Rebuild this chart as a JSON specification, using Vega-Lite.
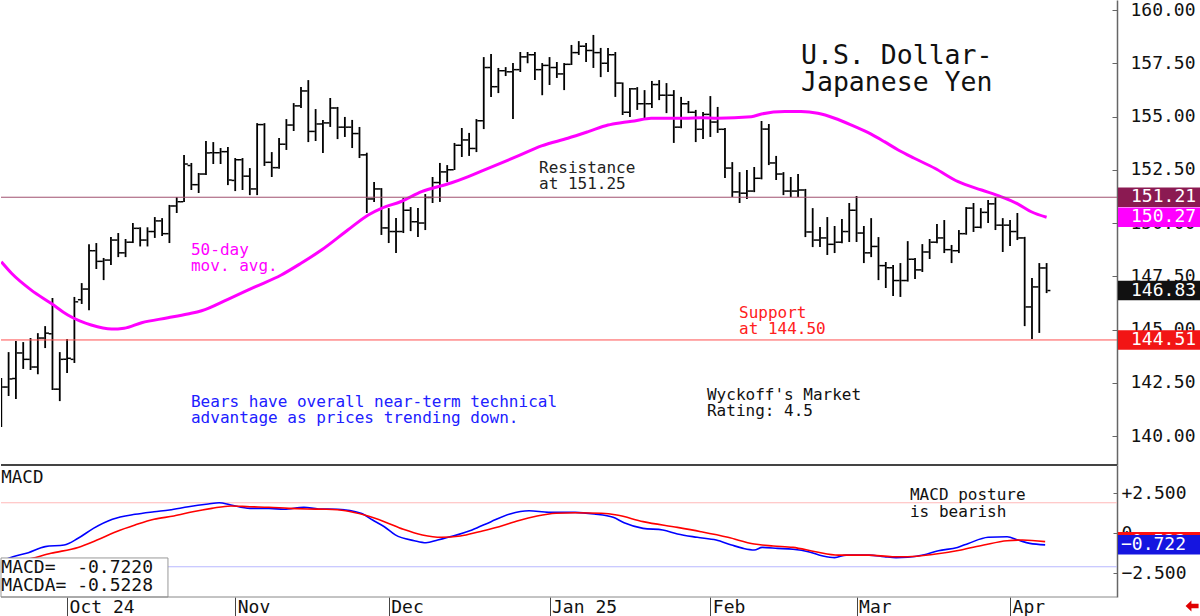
{
  "$schema": "https://vega.github.io/schema/vega-lite/v6.json",
  "padding": 0,
  "background": "white",
  "spacing": 0,
  "bounds": "flush",
  "resolve": {"scale": {"x": "independent", "y": "independent", "color": "independent"}},
  "config": {"view": {"stroke": null}, "font": "DejaVu Sans Mono"},
  "datasets": {
    "bars": [
      {"d":"2024-09-18","i":0,"o":141.2,"h":142.72,"l":140.42,"c":142.3},
      {"d":"2024-09-19","i":1,"o":142.3,"h":143.94,"l":141.88,"c":142.68},
      {"d":"2024-09-20","i":2,"o":142.7,"h":144.46,"l":141.74,"c":143.9},
      {"d":"2024-09-23","i":3,"o":143.9,"h":144.41,"l":143.15,"c":143.6},
      {"d":"2024-09-24","i":4,"o":143.6,"h":144.6,"l":143.1,"c":143.24},
      {"d":"2024-09-25","i":5,"o":143.24,"h":144.83,"l":142.9,"c":144.6},
      {"d":"2024-09-26","i":6,"o":144.6,"h":145.16,"l":144.13,"c":144.83},
      {"d":"2024-09-27","i":7,"o":144.8,"h":146.48,"l":142.16,"c":142.2},
      {"d":"2024-09-30","i":8,"o":142.2,"h":143.94,"l":141.64,"c":143.6},
      {"d":"2024-10-01","i":9,"o":143.6,"h":144.55,"l":142.96,"c":143.65},
      {"d":"2024-10-02","i":10,"o":143.6,"h":146.53,"l":143.43,"c":146.3},
      {"d":"2024-10-03","i":11,"o":146.4,"h":147.18,"l":146.2,"c":146.9},
      {"d":"2024-10-04","i":12,"o":146.9,"h":149.0,"l":145.9,"c":148.7},
      {"d":"2024-10-07","i":13,"o":148.7,"h":149.06,"l":147.84,"c":148.2},
      {"d":"2024-10-08","i":14,"o":148.2,"h":148.36,"l":147.32,"c":148.26},
      {"d":"2024-10-09","i":15,"o":148.26,"h":149.34,"l":148.03,"c":149.2},
      {"d":"2024-10-10","i":16,"o":149.2,"h":149.53,"l":148.4,"c":148.6},
      {"d":"2024-10-11","i":17,"o":148.6,"h":149.25,"l":148.4,"c":149.1},
      {"d":"2024-10-14","i":18,"o":149.1,"h":150.0,"l":149.06,"c":149.75},
      {"d":"2024-10-15","i":19,"o":149.75,"h":149.8,"l":148.9,"c":149.2},
      {"d":"2024-10-16","i":20,"o":149.2,"h":149.8,"l":148.9,"c":149.6},
      {"d":"2024-10-17","i":21,"o":149.6,"h":150.28,"l":149.3,"c":150.1},
      {"d":"2024-10-18","i":22,"o":150.1,"h":150.23,"l":149.39,"c":149.5},
      {"d":"2024-10-21","i":23,"o":149.5,"h":150.85,"l":149.06,"c":150.8},
      {"d":"2024-10-22","i":24,"o":150.8,"h":151.22,"l":150.47,"c":151.0},
      {"d":"2024-10-23","i":25,"o":151.0,"h":153.19,"l":150.99,"c":152.77},
      {"d":"2024-10-24","i":26,"o":152.7,"h":152.82,"l":151.55,"c":151.8},
      {"d":"2024-10-25","i":27,"o":151.8,"h":152.35,"l":151.41,"c":152.3},
      {"d":"2024-10-28","i":28,"o":152.3,"h":153.85,"l":152.25,"c":153.29},
      {"d":"2024-10-29","i":29,"o":153.3,"h":153.8,"l":152.77,"c":153.3},
      {"d":"2024-10-30","i":30,"o":153.3,"h":153.52,"l":152.77,"c":153.35},
      {"d":"2024-10-31","i":31,"o":153.35,"h":153.57,"l":151.78,"c":152.02},
      {"d":"2024-11-01","i":32,"o":152.0,"h":153.05,"l":151.5,"c":152.97},
      {"d":"2024-11-04","i":33,"o":152.97,"h":153.05,"l":151.55,"c":152.2},
      {"d":"2024-11-05","i":34,"o":152.2,"h":152.58,"l":151.31,"c":151.6},
      {"d":"2024-11-06","i":35,"o":151.6,"h":154.69,"l":151.31,"c":154.62},
      {"d":"2024-11-07","i":36,"o":154.62,"h":154.69,"l":152.68,"c":152.85},
      {"d":"2024-11-08","i":37,"o":152.85,"h":153.33,"l":152.16,"c":152.6},
      {"d":"2024-11-11","i":38,"o":152.6,"h":153.99,"l":152.55,"c":153.7},
      {"d":"2024-11-12","i":39,"o":153.7,"h":154.88,"l":153.43,"c":154.6},
      {"d":"2024-11-13","i":40,"o":154.6,"h":155.63,"l":154.32,"c":155.5},
      {"d":"2024-11-14","i":41,"o":155.5,"h":156.38,"l":155.4,"c":156.2},
      {"d":"2024-11-15","i":42,"o":156.2,"h":156.71,"l":153.8,"c":154.3},
      {"d":"2024-11-18","i":43,"o":154.3,"h":155.35,"l":153.85,"c":154.65},
      {"d":"2024-11-19","i":44,"o":154.65,"h":154.84,"l":153.29,"c":154.7},
      {"d":"2024-11-20","i":45,"o":154.7,"h":155.87,"l":154.51,"c":155.4},
      {"d":"2024-11-21","i":46,"o":155.4,"h":155.45,"l":153.94,"c":154.5},
      {"d":"2024-11-22","i":47,"o":154.5,"h":154.98,"l":154.04,"c":154.5},
      {"d":"2024-11-25","i":48,"o":154.5,"h":154.84,"l":153.52,"c":154.2},
      {"d":"2024-11-26","i":49,"o":154.2,"h":154.51,"l":153.05,"c":153.2},
      {"d":"2024-11-27","i":50,"o":153.2,"h":153.3,"l":150.47,"c":151.13},
      {"d":"2024-11-28","i":51,"o":151.13,"h":151.92,"l":150.99,"c":151.6},
      {"d":"2024-11-29","i":52,"o":151.6,"h":151.64,"l":149.44,"c":149.77},
      {"d":"2024-12-02","i":53,"o":149.77,"h":150.7,"l":149.06,"c":149.6},
      {"d":"2024-12-03","i":54,"o":149.6,"h":150.23,"l":148.59,"c":149.6},
      {"d":"2024-12-04","i":55,"o":149.6,"h":151.17,"l":149.53,"c":150.6},
      {"d":"2024-12-05","i":56,"o":150.6,"h":150.75,"l":149.62,"c":150.06},
      {"d":"2024-12-06","i":57,"o":150.06,"h":150.7,"l":149.34,"c":150.0},
      {"d":"2024-12-09","i":58,"o":150.0,"h":151.36,"l":149.67,"c":151.2},
      {"d":"2024-12-10","i":59,"o":151.2,"h":152.16,"l":150.94,"c":151.9},
      {"d":"2024-12-11","i":60,"o":151.9,"h":152.82,"l":150.99,"c":152.4},
      {"d":"2024-12-12","i":61,"o":152.4,"h":152.72,"l":151.92,"c":152.5},
      {"d":"2024-12-13","i":62,"o":152.5,"h":153.76,"l":152.49,"c":153.65},
      {"d":"2024-12-16","i":63,"o":153.65,"h":154.46,"l":153.1,"c":153.9},
      {"d":"2024-12-17","i":64,"o":153.9,"h":154.23,"l":153.15,"c":153.5},
      {"d":"2024-12-18","i":65,"o":153.5,"h":154.88,"l":153.33,"c":154.8},
      {"d":"2024-12-19","i":66,"o":154.8,"h":157.79,"l":154.41,"c":157.3},
      {"d":"2024-12-20","i":67,"o":157.3,"h":157.93,"l":155.92,"c":156.4},
      {"d":"2024-12-23","i":68,"o":156.4,"h":157.28,"l":156.1,"c":157.15},
      {"d":"2024-12-24","i":69,"o":157.15,"h":157.32,"l":156.9,"c":157.1},
      {"d":"2024-12-25","i":70,"o":157.1,"h":157.51,"l":154.88,"c":157.2},
      {"d":"2024-12-26","i":71,"o":157.2,"h":158.03,"l":157.09,"c":157.8},
      {"d":"2024-12-27","i":72,"o":157.8,"h":158.03,"l":157.5,"c":157.9},
      {"d":"2024-12-30","i":73,"o":157.9,"h":158.03,"l":156.71,"c":157.2},
      {"d":"2024-12-31","i":74,"o":157.2,"h":157.51,"l":156.0,"c":157.4},
      {"d":"2025-01-02","i":75,"o":157.4,"h":157.79,"l":156.48,"c":157.3},
      {"d":"2025-01-03","i":76,"o":157.3,"h":157.56,"l":156.81,"c":157.0},
      {"d":"2025-01-06","i":77,"o":157.0,"h":157.51,"l":156.24,"c":157.45},
      {"d":"2025-01-07","i":78,"o":157.45,"h":158.36,"l":157.42,"c":158.0},
      {"d":"2025-01-08","i":79,"o":158.0,"h":158.54,"l":157.89,"c":158.3},
      {"d":"2025-01-09","i":80,"o":158.3,"h":158.45,"l":157.56,"c":158.1},
      {"d":"2025-01-10","i":81,"o":158.1,"h":158.83,"l":157.28,"c":158.0},
      {"d":"2025-01-13","i":82,"o":158.0,"h":158.22,"l":156.85,"c":157.5},
      {"d":"2025-01-14","i":83,"o":157.5,"h":158.22,"l":157.09,"c":157.9},
      {"d":"2025-01-15","i":84,"o":157.9,"h":158.03,"l":155.92,"c":156.57},
      {"d":"2025-01-16","i":85,"o":156.57,"h":156.6,"l":155.07,"c":155.2},
      {"d":"2025-01-17","i":86,"o":155.2,"h":156.34,"l":154.98,"c":156.3},
      {"d":"2025-01-20","i":87,"o":156.3,"h":156.38,"l":155.31,"c":155.6},
      {"d":"2025-01-21","i":88,"o":155.6,"h":156.24,"l":154.84,"c":155.6},
      {"d":"2025-01-22","i":89,"o":155.6,"h":156.67,"l":155.4,"c":156.5},
      {"d":"2025-01-23","i":90,"o":156.5,"h":156.71,"l":155.77,"c":156.0},
      {"d":"2025-01-24","i":91,"o":156.0,"h":156.57,"l":155.16,"c":156.0},
      {"d":"2025-01-27","i":92,"o":156.0,"h":156.24,"l":153.76,"c":154.5},
      {"d":"2025-01-28","i":93,"o":154.5,"h":155.92,"l":154.45,"c":155.6},
      {"d":"2025-01-29","i":94,"o":155.6,"h":155.73,"l":155.16,"c":155.2},
      {"d":"2025-01-30","i":95,"o":155.2,"h":155.31,"l":153.8,"c":154.4},
      {"d":"2025-01-31","i":96,"o":154.4,"h":155.21,"l":153.94,"c":155.1},
      {"d":"2025-02-03","i":97,"o":155.1,"h":155.96,"l":154.04,"c":154.74},
      {"d":"2025-02-04","i":98,"o":154.74,"h":155.45,"l":154.23,"c":154.4},
      {"d":"2025-02-05","i":99,"o":154.4,"h":154.46,"l":152.11,"c":152.58},
      {"d":"2025-02-06","i":100,"o":152.58,"h":152.86,"l":151.22,"c":151.46},
      {"d":"2025-02-07","i":101,"o":151.46,"h":152.39,"l":150.94,"c":151.4},
      {"d":"2025-02-10","i":102,"o":151.4,"h":152.49,"l":151.13,"c":151.5},
      {"d":"2025-02-11","i":103,"o":151.5,"h":152.63,"l":151.45,"c":152.1},
      {"d":"2025-02-12","i":104,"o":152.1,"h":154.79,"l":152.05,"c":154.41},
      {"d":"2025-02-13","i":105,"o":154.41,"h":154.65,"l":152.72,"c":152.82},
      {"d":"2025-02-14","i":106,"o":152.82,"h":153.15,"l":152.02,"c":152.3},
      {"d":"2025-02-17","i":107,"o":152.3,"h":152.39,"l":151.31,"c":151.5},
      {"d":"2025-02-18","i":108,"o":151.5,"h":152.16,"l":151.22,"c":151.5},
      {"d":"2025-02-19","i":109,"o":151.5,"h":152.3,"l":151.22,"c":151.55},
      {"d":"2025-02-20","i":110,"o":151.55,"h":151.6,"l":149.34,"c":149.58},
      {"d":"2025-02-21","i":111,"o":149.58,"h":150.7,"l":148.87,"c":149.2},
      {"d":"2025-02-24","i":112,"o":149.2,"h":149.81,"l":148.87,"c":149.3},
      {"d":"2025-02-25","i":113,"o":149.3,"h":150.28,"l":148.5,"c":149.0},
      {"d":"2025-02-26","i":114,"o":149.0,"h":149.86,"l":148.59,"c":149.1},
      {"d":"2025-02-27","i":115,"o":149.1,"h":150.19,"l":149.05,"c":149.6},
      {"d":"2025-02-28","i":116,"o":149.6,"h":150.94,"l":149.11,"c":150.6},
      {"d":"2025-03-03","i":117,"o":150.6,"h":151.27,"l":149.11,"c":149.53},
      {"d":"2025-03-04","i":118,"o":149.53,"h":149.86,"l":148.12,"c":148.6},
      {"d":"2025-03-05","i":119,"o":148.6,"h":150.23,"l":148.4,"c":148.9},
      {"d":"2025-03-06","i":120,"o":148.9,"h":149.34,"l":147.32,"c":148.0},
      {"d":"2025-03-07","i":121,"o":148.0,"h":148.17,"l":146.95,"c":147.9},
      {"d":"2025-03-10","i":122,"o":147.9,"h":148.03,"l":146.57,"c":147.3},
      {"d":"2025-03-11","i":123,"o":147.3,"h":148.12,"l":146.53,"c":147.3},
      {"d":"2025-03-12","i":124,"o":147.3,"h":149.15,"l":147.25,"c":148.3},
      {"d":"2025-03-13","i":125,"o":148.3,"h":148.36,"l":147.37,"c":147.8},
      {"d":"2025-03-14","i":126,"o":147.8,"h":149.01,"l":147.7,"c":148.64},
      {"d":"2025-03-17","i":127,"o":148.64,"h":149.25,"l":148.31,"c":149.1},
      {"d":"2025-03-18","i":128,"o":149.1,"h":149.95,"l":149.05,"c":149.3},
      {"d":"2025-03-19","i":129,"o":149.3,"h":150.14,"l":148.59,"c":148.75},
      {"d":"2025-03-20","i":130,"o":148.75,"h":148.97,"l":148.12,"c":148.7},
      {"d":"2025-03-21","i":131,"o":148.7,"h":149.67,"l":148.59,"c":149.5},
      {"d":"2025-03-24","i":132,"o":149.5,"h":150.75,"l":149.45,"c":150.7},
      {"d":"2025-03-25","i":133,"o":150.7,"h":150.94,"l":149.58,"c":149.8},
      {"d":"2025-03-26","i":134,"o":149.8,"h":150.7,"l":149.75,"c":150.5},
      {"d":"2025-03-27","i":135,"o":150.5,"h":151.08,"l":150.0,"c":150.9},
      {"d":"2025-03-28","i":136,"o":150.9,"h":151.22,"l":149.67,"c":149.9},
      {"d":"2025-03-31","i":137,"o":149.9,"h":150.23,"l":148.64,"c":149.9},
      {"d":"2025-04-01","i":138,"o":149.9,"h":150.14,"l":148.92,"c":149.6},
      {"d":"2025-04-02","i":139,"o":149.6,"h":150.47,"l":149.2,"c":149.3},
      {"d":"2025-04-03","i":140,"o":149.3,"h":149.35,"l":145.16,"c":146.06},
      {"d":"2025-04-04","i":141,"o":146.06,"h":147.42,"l":144.55,"c":147.0},
      {"d":"2025-04-07","i":142,"o":147.0,"h":148.12,"l":144.84,"c":147.89},
      {"d":"2025-04-08","i":143,"o":147.89,"h":148.12,"l":146.71,"c":146.83}
    ],
    "ma": [
      {"i":0,"v":148.18},{"i":1.4,"v":147.64},{"i":4.1,"v":146.85},{"i":6.8,"v":146.23},{"i":9.1,"v":145.68},
      {"i":12.3,"v":145.21},{"i":15.1,"v":145.02},{"i":16.8,"v":145.06},{"i":19.2,"v":145.32},{"i":22.8,"v":145.55},
      {"i":25.5,"v":145.73},{"i":27.4,"v":145.88},{"i":31.0,"v":146.42},{"i":34.7,"v":147.0},{"i":38.3,"v":147.56},
      {"i":41.0,"v":148.11},{"i":43.8,"v":148.73},{"i":47.4,"v":149.67},{"i":50.2,"v":150.38},{"i":52.0,"v":150.69},
      {"i":54.7,"v":151.01},{"i":57.5,"v":151.47},{"i":61.6,"v":151.89},{"i":63.8,"v":152.17},{"i":66.6,"v":152.57},
      {"i":70.7,"v":153.15},{"i":73.9,"v":153.62},{"i":77.5,"v":153.98},{"i":80.3,"v":154.29},{"i":83.0,"v":154.6},
      {"i":84.8,"v":154.71},{"i":86.6,"v":154.79},{"i":88.9,"v":154.92},{"i":91.2,"v":154.92},{"i":93.5,"v":154.92},
      {"i":95.8,"v":154.94},{"i":98.0,"v":154.92},{"i":102.6,"v":154.99},{"i":104.0,"v":155.12},{"i":107.2,"v":155.23},
      {"i":109.4,"v":155.23},{"i":111.7,"v":155.15},{"i":114.0,"v":154.92},{"i":116.3,"v":154.6},{"i":118.6,"v":154.24},
      {"i":120.8,"v":153.82},{"i":122.7,"v":153.43},{"i":124.9,"v":153.04},{"i":127.7,"v":152.57},{"i":130.9,"v":151.94},
      {"i":134.1,"v":151.55},{"i":136.8,"v":151.23},{"i":139.1,"v":150.89},{"i":140.9,"v":150.53},{"i":143.0,"v":150.27}
    ],
    "macd": [
      {"i":0,"v":-1.75,"s":"MACD"},{"i":1.6,"v":-1.46,"s":"MACD"},{"i":3.7,"v":-1.21,"s":"MACD"},{"i":6.0,"v":-0.83,"s":"MACD"},
      {"i":8.6,"v":-0.73,"s":"MACD"},{"i":10.5,"v":-0.31,"s":"MACD"},{"i":12.6,"v":0.31,"s":"MACD"},{"i":15.2,"v":0.88,"s":"MACD"},
      {"i":18.3,"v":1.19,"s":"MACD"},{"i":20.9,"v":1.35,"s":"MACD"},{"i":23.0,"v":1.46,"s":"MACD"},{"i":25.6,"v":1.66,"s":"MACD"},
      {"i":28.3,"v":1.83,"s":"MACD"},{"i":29.8,"v":1.91,"s":"MACD"},{"i":31.4,"v":1.77,"s":"MACD"},{"i":34.0,"v":1.56,"s":"MACD"},
      {"i":36.6,"v":1.56,"s":"MACD"},{"i":38.7,"v":1.5,"s":"MACD"},{"i":41.4,"v":1.63,"s":"MACD"},{"i":43.4,"v":1.52,"s":"MACD"},
      {"i":46.0,"v":1.5,"s":"MACD"},{"i":49.2,"v":1.25,"s":"MACD"},{"i":50.8,"v":0.83,"s":"MACD"},{"i":52.4,"v":0.41,"s":"MACD"},
      {"i":53.9,"v":-0.1,"s":"MACD"},{"i":56.5,"v":-0.46,"s":"MACD"},{"i":58.1,"v":-0.59,"s":"MACD"},{"i":59.7,"v":-0.42,"s":"MACD"},
      {"i":61.8,"v":-0.17,"s":"MACD"},{"i":64.4,"v":0.21,"s":"MACD"},{"i":67.0,"v":0.73,"s":"MACD"},{"i":69.6,"v":1.21,"s":"MACD"},
      {"i":72.2,"v":1.41,"s":"MACD"},{"i":74.9,"v":1.31,"s":"MACD"},{"i":78.5,"v":1.31,"s":"MACD"},{"i":81.1,"v":1.21,"s":"MACD"},
      {"i":83.7,"v":1.0,"s":"MACD"},{"i":85.2,"v":0.66,"s":"MACD"},{"i":87.8,"v":0.31,"s":"MACD"},{"i":90.5,"v":0.21,"s":"MACD"},
      {"i":92.5,"v":-0.04,"s":"MACD"},{"i":95.2,"v":-0.25,"s":"MACD"},{"i":97.8,"v":-0.42,"s":"MACD"},{"i":99.9,"v":-0.73,"s":"MACD"},
      {"i":101.5,"v":-0.94,"s":"MACD"},{"i":103.0,"v":-1.04,"s":"MACD"},{"i":104.1,"v":-0.88,"s":"MACD"},{"i":106.2,"v":-0.94,"s":"MACD"},
      {"i":108.3,"v":-1.0,"s":"MACD"},{"i":110.4,"v":-1.15,"s":"MACD"},{"i":112.4,"v":-1.42,"s":"MACD"},{"i":114.0,"v":-1.52,"s":"MACD"},
      {"i":115.6,"v":-1.36,"s":"MACD"},{"i":118.7,"v":-1.36,"s":"MACD"},{"i":120.8,"v":-1.46,"s":"MACD"},{"i":122.4,"v":-1.52,"s":"MACD"},
      {"i":124.0,"v":-1.5,"s":"MACD"},{"i":126.1,"v":-1.36,"s":"MACD"},{"i":128.2,"v":-1.09,"s":"MACD"},{"i":130.8,"v":-0.88,"s":"MACD"},
      {"i":132.3,"v":-0.63,"s":"MACD"},{"i":135.0,"v":-0.25,"s":"MACD"},{"i":137.6,"v":-0.21,"s":"MACD"},{"i":139.1,"v":-0.42,"s":"MACD"},
      {"i":140.7,"v":-0.63,"s":"MACD"},{"i":142.8,"v":-0.72,"s":"MACD"},
      {"i":0,"v":-2.0,"s":"MACDA"},{"i":2.0,"v":-1.8,"s":"MACDA"},{"i":4.2,"v":-1.56,"s":"MACDA"},{"i":6.8,"v":-1.25,"s":"MACDA"},
      {"i":10.5,"v":-0.88,"s":"MACDA"},{"i":13.1,"v":-0.42,"s":"MACDA"},{"i":15.7,"v":0.1,"s":"MACDA"},{"i":18.3,"v":0.52,"s":"MACDA"},
      {"i":20.9,"v":0.88,"s":"MACDA"},{"i":23.6,"v":1.08,"s":"MACDA"},{"i":26.2,"v":1.35,"s":"MACDA"},{"i":28.8,"v":1.56,"s":"MACDA"},
      {"i":31.4,"v":1.71,"s":"MACDA"},{"i":34.0,"v":1.66,"s":"MACDA"},{"i":36.6,"v":1.63,"s":"MACDA"},{"i":39.3,"v":1.56,"s":"MACDA"},
      {"i":41.9,"v":1.52,"s":"MACDA"},{"i":44.5,"v":1.5,"s":"MACDA"},{"i":47.1,"v":1.41,"s":"MACDA"},{"i":49.7,"v":1.14,"s":"MACDA"},
      {"i":52.4,"v":0.73,"s":"MACDA"},{"i":55.0,"v":0.25,"s":"MACDA"},{"i":57.6,"v":-0.1,"s":"MACDA"},{"i":60.2,"v":-0.25,"s":"MACDA"},
      {"i":62.8,"v":-0.17,"s":"MACDA"},{"i":65.4,"v":0.1,"s":"MACDA"},{"i":68.1,"v":0.41,"s":"MACDA"},{"i":70.7,"v":0.79,"s":"MACDA"},
      {"i":73.3,"v":1.08,"s":"MACDA"},{"i":75.9,"v":1.25,"s":"MACDA"},{"i":78.5,"v":1.29,"s":"MACDA"},{"i":82.1,"v":1.25,"s":"MACDA"},
      {"i":84.2,"v":1.14,"s":"MACDA"},{"i":87.8,"v":0.73,"s":"MACDA"},{"i":92.5,"v":0.37,"s":"MACDA"},{"i":95.7,"v":0.1,"s":"MACDA"},
      {"i":99.4,"v":-0.25,"s":"MACDA"},{"i":103.0,"v":-0.67,"s":"MACDA"},{"i":105.6,"v":-0.79,"s":"MACDA"},{"i":108.3,"v":-0.88,"s":"MACDA"},
      {"i":111.4,"v":-1.15,"s":"MACDA"},{"i":114.5,"v":-1.36,"s":"MACDA"},{"i":118.7,"v":-1.36,"s":"MACDA"},{"i":121.9,"v":-1.46,"s":"MACDA"},
      {"i":124.0,"v":-1.46,"s":"MACDA"},{"i":127.6,"v":-1.31,"s":"MACDA"},{"i":131.3,"v":-1.04,"s":"MACDA"},{"i":134.4,"v":-0.73,"s":"MACDA"},
      {"i":137.6,"v":-0.46,"s":"MACDA"},{"i":139.7,"v":-0.42,"s":"MACDA"},{"i":142.8,"v":-0.52,"s":"MACDA"}
    ],
    "priceTags": [
      {"k":"resistance","v":151.21},
      {"k":"ma","v":150.27},
      {"k":"close","v":146.83},
      {"k":"support","v":144.51}
    ],
    "macdTags": [
      {"k":"MACDA","v":-0.5228},
      {"k":"MACD","v":-0.722}
    ]
  },
  "vconcat": [
    {
      "width": 1116,
      "height": 465,
      "layer": [
        {
          "data": {"name": "bars"},
          "mark": {"type": "rule", "color": "#000000", "strokeWidth": 1.8, "clip": true},
          "encoding": {
            "x": {"field": "i", "type": "quantitative", "scale": {"domain": [-0.04, 152.63], "nice": false, "zero": false}, "axis": null},
            "y": {"field": "l", "type": "quantitative", "scale": {"domain": [138.64, 160.47], "nice": false, "zero": false},
              "axis": {
                "orient": "right", "title": null, "grid": false,
                "values": [140, 142.5, 145, 147.5, 150, 152.5, 155, 157.5, 160],
                "format": ".2f",
                "domainColor": "#666666", "domainWidth": 1.5,
                "tickColor": "#666666", "tickWidth": 1, "tickSize": -5,
                "labelPadding": 18, "labelAlign": "left", "labelBaseline": "middle",
                "labelFont": "DejaVu Sans Mono", "labelFontSize": 18, "labelColor": "#111111", "labelOverlap": false
              }
            },
            "y2": {"field": "h"}
          }
        },
        {
          "data": {"name": "bars"},
          "mark": {"type": "tick", "orient": "horizontal", "size": 3, "thickness": 1.5, "xOffset": -2.3, "color": "#000000", "opacity": 1, "clip": true},
          "encoding": {
            "x": {"field": "i", "type": "quantitative"},
            "y": {"field": "o", "type": "quantitative"}
          }
        },
        {
          "data": {"name": "bars"},
          "mark": {"type": "tick", "orient": "horizontal", "size": 3, "thickness": 1.5, "xOffset": 2.3, "color": "#000000", "opacity": 1, "clip": true},
          "encoding": {
            "x": {"field": "i", "type": "quantitative"},
            "y": {"field": "c", "type": "quantitative"}
          }
        },
        {
          "data": {"name": "ma"},
          "mark": {"type": "line", "color": "#FF00FF", "strokeWidth": 3, "interpolate": "monotone", "clip": true},
          "encoding": {
            "x": {"field": "i", "type": "quantitative"},
            "y": {"field": "v", "type": "quantitative"}
          }
        },
        {
          "data": {"values": [{}]},
          "mark": {"type": "rule", "color": "#A05070", "strokeWidth": 1},
          "encoding": {"y": {"datum": 151.21, "type": "quantitative"}}
        },
        {
          "data": {"values": [{}]},
          "mark": {"type": "rule", "color": "#FF5050", "strokeWidth": 1},
          "encoding": {"y": {"datum": 144.51, "type": "quantitative"}}
        },
        {
          "data": {"values": [{}]},
          "mark": {"type": "text", "text": ["U.S. Dollar-", "Japanese Yen"], "font": "DejaVu Sans Mono", "fontSize": 26.5, "lineHeight": 27, "align": "left", "baseline": "alphabetic", "color": "#111111"},
          "encoding": {"x": {"datum": 109.4, "type": "quantitative"}, "y": {"datum": 157.46, "type": "quantitative"}}
        },
        {
          "data": {"values": [{}]},
          "mark": {"type": "text", "text": ["Resistance", "at 151.25"], "font": "DejaVu Sans Mono", "fontSize": 16, "lineHeight": 16, "align": "left", "baseline": "alphabetic", "color": "#222222"},
          "encoding": {"x": {"datum": 73.56, "type": "quantitative"}, "y": {"datum": 152.35, "type": "quantitative"}}
        },
        {
          "data": {"values": [{}]},
          "mark": {"type": "text", "text": ["50-day", "mov. avg."], "font": "DejaVu Sans Mono", "fontSize": 16, "lineHeight": 16, "align": "left", "baseline": "alphabetic", "color": "#FF00FF"},
          "encoding": {"x": {"datum": 25.95, "type": "quantitative"}, "y": {"datum": 148.5, "type": "quantitative"}}
        },
        {
          "data": {"values": [{}]},
          "mark": {"type": "text", "text": ["Support", "at 144.50"], "font": "DejaVu Sans Mono", "fontSize": 16, "lineHeight": 16, "align": "left", "baseline": "alphabetic", "color": "#FF2020"},
          "encoding": {"x": {"datum": 100.92, "type": "quantitative"}, "y": {"datum": 145.54, "type": "quantitative"}}
        },
        {
          "data": {"values": [{}]},
          "mark": {"type": "text", "text": ["Bears have overall near-term technical", "advantage as prices trending down."], "font": "DejaVu Sans Mono", "fontSize": 16, "lineHeight": 16, "align": "left", "baseline": "alphabetic", "color": "#2020FF"},
          "encoding": {"x": {"datum": 25.95, "type": "quantitative"}, "y": {"datum": 141.36, "type": "quantitative"}}
        },
        {
          "data": {"values": [{}]},
          "mark": {"type": "text", "text": ["Wyckoff's Market", "Rating: 4.5"], "font": "DejaVu Sans Mono", "fontSize": 16, "lineHeight": 16, "align": "left", "baseline": "alphabetic", "color": "#111111"},
          "encoding": {"x": {"datum": 96.54, "type": "quantitative"}, "y": {"datum": 141.69, "type": "quantitative"}}
        },
        {
          "data": {"name": "priceTags"},
          "mark": {"type": "tick", "orient": "horizontal", "size": 83, "thickness": 19.5, "opacity": 1},
          "encoding": {
            "x": {"datum": 158.44, "type": "quantitative"},
            "y": {"field": "v", "type": "quantitative"},
            "color": {"field": "k", "type": "nominal", "scale": {"domain": ["resistance", "ma", "close", "support"], "range": ["#8B1A52", "#FF00FF", "#111111", "#F21515"]}, "legend": null}
          }
        },
        {
          "data": {"name": "priceTags"},
          "mark": {"type": "text", "font": "DejaVu Sans Mono", "fontSize": 18, "align": "left", "baseline": "middle", "color": "#FFFFFF"},
          "encoding": {
            "x": {"datum": 154.55, "type": "quantitative"},
            "y": {"field": "v", "type": "quantitative"},
            "text": {"field": "v", "type": "quantitative", "format": ".2f"}
          }
        }
      ]
    },
    {
      "width": 1116,
      "height": 132,
      "layer": [
        {
          "data": {"values": [{}]},
          "mark": {"type": "rule", "color": "#FFB8B8", "strokeWidth": 1},
          "encoding": {"y": {"datum": 1.91, "type": "quantitative"}}
        },
        {
          "data": {"values": [{}]},
          "mark": {"type": "rule", "color": "#B8B8FF", "strokeWidth": 1},
          "encoding": {"y": {"datum": -2.09, "type": "quantitative"}}
        },
        {
          "data": {"name": "macd"},
          "mark": {"type": "line", "strokeWidth": 1.6, "interpolate": "monotone", "clip": true},
          "encoding": {
            "x": {"field": "i", "type": "quantitative", "scale": {"domain": [-0.04, 152.63], "nice": false, "zero": false},
              "axis": {
                "orient": "bottom", "title": null, "grid": false, "domain": false,
                "values": [9, 32, 53, 75, 97, 117, 138],
                "labelExpr": "datum.value == 9 ? 'Oct 24' : datum.value == 32 ? 'Nov' : datum.value == 53 ? 'Dec' : datum.value == 75 ? 'Jan 25' : datum.value == 97 ? 'Feb' : datum.value == 117 ? 'Mar' : 'Apr'",
                "tickSize": 19, "tickColor": "#444444", "tickWidth": 1,
                "labelAlign": "left", "labelBaseline": "top", "labelPadding": -18, "labelOffset": 2,
                "labelFont": "DejaVu Sans Mono", "labelFontSize": 18, "labelColor": "#111111", "labelFlush": false, "labelOverlap": false
              }
            },
            "y": {"field": "v", "type": "quantitative", "scale": {"domain": [-3.98, 4.27], "nice": false, "zero": false},
              "axis": {
                "orient": "right", "title": null, "grid": false,
                "values": [-2.5, 0, 2.5],
                "labelExpr": "datum.value > 0 ? '+' + format(datum.value, '.3f') : datum.value < 0 ? format(datum.value, '.3f') : '0'",
                "domainColor": "#666666", "domainWidth": 1.5,
                "tickColor": "#666666", "tickWidth": 1, "tickSize": -4,
                "labelPadding": 8, "labelAlign": "left", "labelBaseline": "middle",
                "labelFont": "DejaVu Sans Mono", "labelFontSize": 18, "labelColor": "#111111", "labelOverlap": false
              }
            },
            "color": {"field": "s", "type": "nominal", "scale": {"domain": ["MACD", "MACDA"], "range": ["#0000FF", "#FF0000"]}, "legend": null}
          }
        },
        {
          "data": {"values": [{}]},
          "mark": {"type": "rect", "fill": "#FFFFFF", "stroke": "#999999", "strokeWidth": 1},
          "encoding": {
            "x": {"datum": -0.04, "type": "quantitative"},
            "x2": {"datum": 22.8},
            "y": {"datum": -1.54, "type": "quantitative"},
            "y2": {"datum": -3.98}
          }
        },
        {
          "data": {"values": [{}]},
          "mark": {"type": "text", "text": ["MACD=\u00a0\u00a0-0.7220", "MACDA=\u00a0-0.5228"], "font": "DejaVu Sans Mono", "fontSize": 18, "lineHeight": 18, "align": "left", "baseline": "alphabetic", "color": "#111111"},
          "encoding": {"x": {"datum": 0, "type": "quantitative"}, "y": {"datum": -2.48, "type": "quantitative"}}
        },
        {
          "data": {"values": [{}]},
          "mark": {"type": "text", "text": "MACD", "font": "DejaVu Sans Mono", "fontSize": 17.5, "align": "left", "baseline": "alphabetic", "color": "#111111"},
          "encoding": {"x": {"datum": 0, "type": "quantitative"}, "y": {"datum": 3.14, "type": "quantitative"}}
        },
        {
          "data": {"values": [{}]},
          "mark": {"type": "text", "text": ["MACD posture", "is bearish"], "font": "DejaVu Sans Mono", "fontSize": 16, "lineHeight": 17, "align": "left", "baseline": "alphabetic", "color": "#111111"},
          "encoding": {"x": {"datum": 124.31, "type": "quantitative"}, "y": {"datum": 2.08, "type": "quantitative"}}
        },
        {
          "data": {"values": [{}]},
          "mark": {"type": "rule", "color": "#444444", "strokeWidth": 2},
          "encoding": {"y": {"datum": 4.27, "type": "quantitative"}}
        },
        {
          "data": {"values": [{}]},
          "mark": {"type": "rule", "color": "#888888", "strokeWidth": 1},
          "encoding": {"y": {"datum": -3.98, "type": "quantitative"}}
        },
        {
          "data": {"name": "macdTags"},
          "transform": [{"filter": "datum.k == 'MACDA'"}],
          "mark": {"type": "tick", "orient": "horizontal", "size": 83, "thickness": 19.5, "opacity": 1, "color": "#FF1010"},
          "encoding": {
            "x": {"datum": 158.44, "type": "quantitative"},
            "y": {"field": "v", "type": "quantitative"}
          }
        },
        {
          "data": {"name": "macdTags"},
          "transform": [{"filter": "datum.k == 'MACDA'"}],
          "mark": {"type": "text", "font": "DejaVu Sans Mono", "fontSize": 18, "align": "left", "baseline": "middle", "color": "#FFFFFF"},
          "encoding": {
            "x": {"datum": 153.18, "type": "quantitative"},
            "y": {"field": "v", "type": "quantitative"},
            "text": {"field": "v", "type": "quantitative", "format": ".3f"}
          }
        },
        {
          "data": {"name": "macdTags"},
          "transform": [{"filter": "datum.k == 'MACD'"}],
          "mark": {"type": "tick", "orient": "horizontal", "size": 83, "thickness": 19.5, "opacity": 1, "color": "#1515E0"},
          "encoding": {
            "x": {"datum": 158.44, "type": "quantitative"},
            "y": {"field": "v", "type": "quantitative"}
          }
        },
        {
          "data": {"name": "macdTags"},
          "transform": [{"filter": "datum.k == 'MACD'"}],
          "mark": {"type": "text", "font": "DejaVu Sans Mono", "fontSize": 18, "align": "left", "baseline": "middle", "color": "#FFFFFF"},
          "encoding": {
            "x": {"datum": 153.18, "type": "quantitative"},
            "y": {"field": "v", "type": "quantitative"},
            "text": {"field": "v", "type": "quantitative", "format": ".3f"}
          }
        },
        {
          "data": {"values": [{}]},
          "mark": {"type": "point", "shape": "M -1 0 L -0.1 -0.85 L -0.1 -0.35 L 1 -0.35 L 1 0.35 L -0.1 0.35 L -0.1 0.85 Z", "filled": true, "color": "#E00000", "size": 169, "opacity": 1},
          "encoding": {"x": {"datum": 162.9, "type": "quantitative"}, "y": {"datum": -4.54, "type": "quantitative"}}
        }
      ]
    }
  ]
}
